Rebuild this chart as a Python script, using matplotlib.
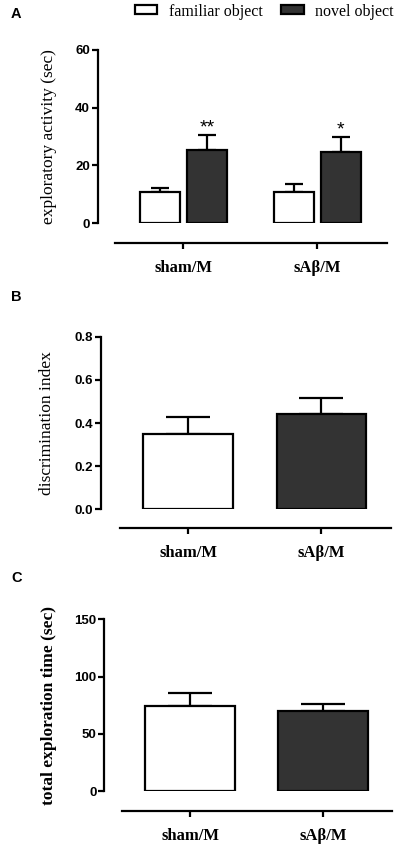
import numpy as np
import matplotlib
matplotlib.use("Agg")
import matplotlib.pyplot as plt
from matplotlib.patches import Patch

groups = ["sham/M", "sAβ/M"]

# panel A
familiar = [10.8, 10.6]
familiar_sem = [1.5, 2.9]
novel = [25.4, 24.5]
novel_sem = [5.0, 5.2]
stars = ["**", "*"]

# panel B
disc_index = [0.349, 0.440]
disc_sem = [0.080, 0.074]

# panel C
total_time = [74.5, 70.1]
total_sem = [11.4, 5.9]

WHITE = "white"
DARK = "#333333"
SERIF = "Liberation Serif"
SANS = "Liberation Sans"

fig = plt.figure(figsize=(3.95, 8.5), dpi=100)


def style_axes(ax, ylim, yticks, fmt, left_off, bottom_off):
    ax.set_xlim(-0.51, 1.52)
    ax.set_ylim(*ylim)
    for s in ["top", "right"]:
        ax.spines[s].set_visible(False)
    ax.spines["left"].set_position(("outward", left_off))
    ax.spines["bottom"].set_position(("outward", bottom_off))
    ax.spines["left"].set_linewidth(1.6)
    ax.spines["bottom"].set_linewidth(1.6)
    ax.set_yticks(yticks)
    ax.set_yticklabels([fmt.format(v) for v in yticks], fontfamily=SANS,
                       fontweight="bold", fontsize=9.5)
    ax.set_xticks(range(len(groups)))
    ax.set_xticklabels(groups, fontfamily=SERIF, fontweight="bold", fontsize=12)
    ax.tick_params(axis="both", width=1.6, length=4.3, direction="out")
    ax.tick_params(axis="x", pad=8)
    ax.tick_params(axis="y", pad=1.2)


def err_bars(ax, x, y, e, cap):
    ax.errorbar(x, y, yerr=[np.zeros(len(e)), e], fmt="none", ecolor="black",
                elinewidth=1.6, capsize=cap, capthick=1.6, zorder=1)


# ---- A ----
axA = fig.add_axes([115 / 395, 1 - 223 / 850, 272 / 395, 173 / 850])
x = np.arange(len(groups))
w = 0.30
off = 0.175
err_bars(axA, x - off, familiar, familiar_sem, 6.8)
err_bars(axA, x + off, novel, novel_sem, 6.8)
axA.bar(x - off, familiar, w, color=WHITE, edgecolor="black", linewidth=1.6, zorder=2)
axA.bar(x + off, novel, w, color=DARK, edgecolor="black", linewidth=1.6, zorder=2)
for xi, top, s in zip(x + off, np.array(novel) + np.array(novel_sem), stars):
    axA.annotate(s, (xi, top), xytext=(0, -1), textcoords="offset points",
                 ha="center", va="bottom", fontsize=14, fontfamily=SANS)
style_axes(axA, (0, 60), [0, 20, 40, 60], "{:d}", 12.5, 14.4)
axA.set_ylabel("exploratory activity (sec)", fontfamily=SERIF, fontsize=12.5)
axA.yaxis.set_label_coords((57 - 115) / 272, 0.5)

# ---- B ----
axB = fig.add_axes([120 / 395, 1 - 509.3 / 850, 270.7 / 395, 172.6 / 850])
err_bars(axB, x, disc_index, disc_sem, 15.8)
axB.bar(x, disc_index, 0.67, color=[WHITE, DARK], edgecolor="black", linewidth=1.6, zorder=2)
style_axes(axB, (0, 0.8), [0.0, 0.2, 0.4, 0.6, 0.8], "{:.1f}", 13.9, 13.2)
axB.set_ylabel("discrimination index", fontfamily=SERIF, fontsize=12.5)
axB.yaxis.set_label_coords((54.5 - 120) / 270.7, 0.5)

# ---- C ----
axC = fig.add_axes([122.3 / 395, 1 - 791 / 850, 270 / 395, 171.7 / 850])
err_bars(axC, x, total_time, total_sem, 15.8)
axC.bar(x, total_time, 0.675, color=[WHITE, DARK], edgecolor="black", linewidth=1.6, zorder=2)
style_axes(axC, (0, 150), [0, 50, 100, 150], "{:d}", 13.0, 14.2)
axC.set_ylabel("total exploration time (sec)", fontfamily=SERIF, fontweight="bold",
               fontsize=12.5)
axC.yaxis.set_label_coords((57 - 122.3) / 270, 0.5)

# panel letters
for lab, ypix in [("A", 14), ("B", 297), ("C", 578)]:
    fig.text(11 / 395, 1 - ypix / 850, lab, fontfamily=SANS, fontweight="bold",
             fontsize=10.5, ha="left", va="center")

handles = [Patch(facecolor=WHITE, edgecolor="black", linewidth=1.6),
           Patch(facecolor=DARK, edgecolor="black", linewidth=1.6)]
fig.legend(handles, ["familiar object", "novel object"], ncol=2, frameon=False,
           loc="center left", bbox_to_anchor=(135 / 395, 1 - 11.5 / 850),
           borderpad=0, borderaxespad=0, handlelength=1.4, handleheight=0.5,
           handletextpad=0.7, columnspacing=1.2,
           prop={"family": SERIF, "size": 11.5})

fig.savefig("out.png", dpi=100)
